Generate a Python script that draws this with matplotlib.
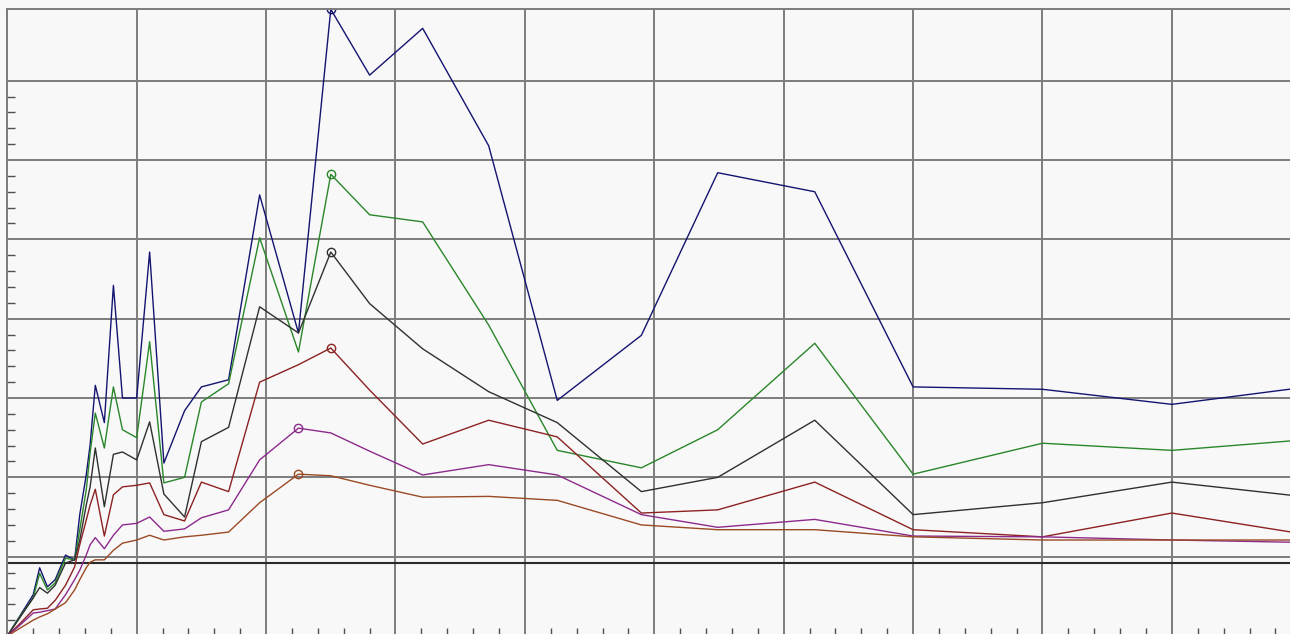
import numpy as np
import matplotlib.pyplot as plt
from matplotlib.ticker import MultipleLocator, FixedLocator

# sample positions shared by all six traces
x = [0, 0.10, 0.20, 0.25, 0.31, 0.37, 0.45, 0.52, 0.56, 0.61, 0.64, 0.68,
     0.75, 0.82, 0.89, 1.00, 1.10, 1.21, 1.37, 1.50, 1.71, 1.95, 2.25, 2.50,
     2.80, 3.21, 3.72, 4.25, 4.90, 5.49, 6.24, 7.00, 8.00, 9.00, 10.00]

navy = [0, 0.26, 0.52, 0.86, 0.62, 0.71, 1.02, 0.96, 1.53, 2.03, 2.41, 3.16,
        2.69, 4.42, 3.00, 3.00, 4.84, 2.18, 2.84, 3.14, 3.23, 5.56, 3.82, 7.90,
        7.07, 7.66, 6.18, 2.97, 3.79, 5.84, 5.60, 3.14, 3.11, 2.92, 3.13]
green = [0, 0.25, 0.48, 0.79, 0.58, 0.67, 0.98, 0.96, 1.34, 1.84, 2.31, 2.81,
         2.37, 3.14, 2.60, 2.50, 3.71, 1.93, 2.00, 2.95, 3.18, 5.02, 3.58, 5.82,
         5.31, 5.22, 3.92, 2.34, 2.12, 2.60, 3.69, 2.04, 2.43, 2.34, 2.47]
black = [0, 0.24, 0.48, 0.61, 0.54, 0.64, 0.92, 0.96, 1.21, 1.65, 1.88, 2.37,
         1.63, 2.29, 2.32, 2.22, 2.70, 1.79, 1.50, 2.45, 2.63, 4.15, 3.82, 4.84,
         4.19, 3.62, 3.08, 2.69, 1.82, 2.00, 2.72, 1.53, 1.68, 1.94, 1.76]
red = [0, 0.16, 0.33, 0.34, 0.35, 0.45, 0.64, 0.87, 1.15, 1.46, 1.65, 1.85,
       1.26, 1.78, 1.88, 1.90, 1.93, 1.53, 1.45, 1.94, 1.82, 3.20, 3.42, 3.63,
       3.10, 2.42, 2.72, 2.51, 1.55, 1.59, 1.94, 1.34, 1.25, 1.55, 1.29]
purple = [0, 0.14, 0.29, 0.30, 0.32, 0.34, 0.52, 0.71, 0.83, 1.02, 1.15, 1.24,
          1.10, 1.27, 1.40, 1.42, 1.50, 1.32, 1.35, 1.49, 1.59, 2.22, 2.62, 2.56,
          2.33, 2.03, 2.16, 2.03, 1.53, 1.37, 1.47, 1.26, 1.25, 1.21, 1.18]
orange = [0, 0.10, 0.20, 0.24, 0.28, 0.34, 0.42, 0.58, 0.71, 0.86, 0.93, 0.96,
          0.96, 1.08, 1.17, 1.21, 1.27, 1.21, 1.25, 1.27, 1.31, 1.68, 2.04, 2.02,
          1.90, 1.75, 1.76, 1.71, 1.40, 1.34, 1.34, 1.25, 1.21, 1.21, 1.21]

ref_level = 0.92

series = [
    (navy, "#141470"),
    (green, "#2a862a"),
    (black, "#303030"),
    (red, "#8c2222"),
    (purple, "#8c2a8c"),
    (orange, "#9a4a24"),
]

fig = plt.figure(figsize=(12.9, 6.34), dpi=100)
fig.patch.set_facecolor("#f8f8f8")
ax = fig.add_axes([7.3 / 1290, -2 / 634, 1294 / 1290, 626.7 / 634])
ax.set_facecolor("#f8f8f8")

grid_col = "#7c7c7c"
ax.set_axisbelow(True)
ax.grid(True, which="major", color=grid_col, linewidth=1.4)
ax.axhline(ref_level, color="#2a2a2a", linewidth=1.5, zorder=1.5)

for ys, col in series:
    ax.plot(x, ys, color=col, linewidth=1.0)
    # open circle at each trace's peak
    i = int(np.argmax(ys))
    ax.plot(x[i], ys[i], marker="o", markersize=6, markerfacecolor="none",
            markeredgecolor=col, markeredgewidth=1.0)

ax.set_xlim(0, 10)
ax.set_ylim(0, max(navy))

ax.xaxis.set_major_locator(MultipleLocator(1))
ax.yaxis.set_major_locator(MultipleLocator(1))
ax.xaxis.set_minor_locator(MultipleLocator(0.2))
ax.yaxis.set_minor_locator(FixedLocator([v for v in np.arange(0.2, 7.0, 0.2)
                                         if abs(v - round(v)) > 0.05]))
ax.tick_params(which="major", length=0, labelbottom=False, labelleft=False)
ax.tick_params(which="minor", direction="in", length=6, width=1.0,
               color="#505050", top=False, right=False)

for side in ["left", "top", "right", "bottom"]:
    ax.spines[side].set_color(grid_col)
    ax.spines[side].set_linewidth(1.4)

fig.savefig("out.png", dpi=100, facecolor=fig.get_facecolor())
